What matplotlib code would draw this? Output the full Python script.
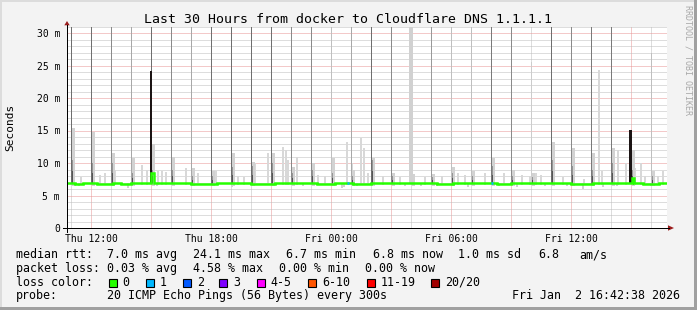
import matplotlib
matplotlib.use("Agg")
import matplotlib.pyplot as plt
from matplotlib.patches import Rectangle, Polygon
from matplotlib.lines import Line2D

W, H = 697, 310

title = "Last 30 Hours from docker to Cloudflare DNS 1.1.1.1"
t_start, t_end = 10.8, 40.8  # hours since Thu 00:00
x_ticks = [12, 18, 24, 30, 36]
x_tick_labels = ["Thu 12:00", "Thu 18:00", "Fri 00:00", "Fri 06:00", "Fri 12:00"]
y_ticks = [0, 5, 10, 15, 20, 25, 30]
y_tick_labels = ["0", "5 m", "10 m", "15 m", "20 m", "25 m", "30 m"]

# hourly bursts: one tall outlier each hour (values in ms)
spike_hour = list(range(11, 41))
spike_top = [40, 40, 40, 40, 40, 40, 40, 40, 40, 40,
             40, 40, 40, 40, 40, 40, 40, 40, 40, 40,
             40, 40, 40, 25.6, 40, 40, 40, 40, 15.1, 27.0]
# share of pings in the outlier (drives the smoke shade)
spike_level = [0.57, 0.56, 0.46, 0.34, 0.57, 0.46, 0.34, 0.56, 0.57, 0.57,
               0.56, 0.46, 0.46, 0.25, 0.34, 0.57, 0.46, 0.18, 0.40, 0.25,
               0.25, 0.52, 0.46, 0.20, 0.57, 0.46, 0.52, 0.52, 0.0, 0.25]
smoke_light = [15.4, 14.8, 11.5, 10.8, 13.0, 11.0, 9.2, 8.7, 11.5, 10.2,
               11.6, 9.4, 10.0, 10.8, 9.0, 10.8, 8.5, 8.3, 8.3, 9.4,
               8.7, 10.8, 8.9, 8.5, 13.3, 12.3, 11.5, 12.3, 12.0, 8.7]
smoke_dark = [10.5, 10.0, 10.0, 8.5, 9.0, 9.0, 8.0, 8.0, 9.4, 9.5,
              10.0, 8.5, 9.0, 8.5, 8.0, 10.5, 8.0, 7.8, 7.8, 8.5,
              8.0, 9.5, 8.0, 7.8, 10.5, 9.5, 9.0, 10.0, 9.0, 8.0]

# steps where most pings were slow
black_hour = [15.0, 38.97]
black_top = [24.1, 15.1]

# scattered smoke between the bursts
clutter_hour = [11.5, 12.45, 12.7, 13.2, 14.55, 14.8, 15.35, 15.55, 15.75, 16.75,
                17.35, 18.25, 19.35, 19.65, 20.2, 20.85, 21.15, 21.6, 21.75, 21.85,
                22.3, 23.35, 23.7, 24.8, 25.05, 25.5, 25.65, 25.85, 26.6, 27.45,
                28.7, 29.55, 30.35, 30.7, 31.1, 31.7, 32.65, 33.55, 33.95, 34.25,
                34.5, 35.6, 36.65, 37.4, 37.55, 38.35, 38.75, 39.2, 39.5, 39.7,
                40.35, 40.6]
clutter_top = [7.9, 8.2, 8.5, 8.9, 9.7, 8.9, 8.8, 8.8, 8.6, 9.2,
               8.5, 8.7, 8.0, 7.9, 10.0, 11.5, 11.3, 12.5, 12.0, 10.5,
               11.0, 8.2, 8.0, 13.3, 10.0, 13.8, 12.3, 8.5, 8.0, 7.8,
               7.8, 8.0, 8.5, 8.2, 8.7, 8.5, 8.5, 8.2, 8.0, 8.5,
               8.2, 7.8, 7.5, 24.3, 8.7, 12.0, 10.0, 9.2, 10.0, 8.0,
               8.0, 8.7]

# smoke below the median
low_hour = [11.2, 11.4, 13.85, 15.3, 19.05, 22.6, 24.55, 24.65, 25.3, 27.7,
            28.5, 29.3, 30.85, 32.4, 33.3, 34.7, 35.8, 36.1, 36.6, 37.6,
            38.3, 40.0]
low_val = [6.4, 6.5, 6.2, 6.4, 6.3, 6.4, 6.2, 6.3, 6.4, 6.4,
           6.4, 6.4, 6.3, 6.4, 6.3, 6.4, 6.5, 6.4, 6.0, 6.3,
           6.4, 6.5]

median_hour = [10.8, 11.2, 11.6, 12.3, 13.1, 13.5, 14.0, 15.0, 15.15, 15.5,
               16.4, 17.0, 18.3, 19.1, 20.0, 21.2, 22.0, 23.3, 24.2, 25.1,
               26.0, 27.2, 28.4, 29.3, 30.1, 31.0, 32.3, 33.0, 34.1, 35.2,
               36.0, 37.1, 38.0, 39.05, 39.15, 39.6, 40.4, 40.8]
median_val = [6.9, 6.8, 6.9, 6.8, 6.9, 6.8, 6.9, 8.5, 6.9, 7.0,
              6.9, 6.8, 6.9, 6.9, 6.8, 6.9, 6.9, 6.8, 6.9, 6.8,
              6.9, 7.0, 6.9, 6.8, 6.9, 6.9, 6.8, 6.9, 7.0, 6.9,
              6.8, 6.9, 6.9, 7.7, 6.9, 6.8, 6.9, 6.9]
loss_hour = [24.78, 32.0]   # one ping lost

loss_labels = ["0", "1", "2", "3", "4-5", "6-10", "11-19", "20/20"]
loss_colors = ["#26ff00", "#00b8ff", "#0059ff", "#7e00ff", "#ff00ff",
               "#ff5500", "#ff0000", "#a10000"]
loss_label_x = [122.7, 160, 197.3, 233.3, 270.7, 322, 380.7, 445]

MONO = "DejaVu Sans Mono"


def fx(x):
    return x / W


def fy(y):
    return 1 - y / H


def gray(level):
    v = 1.0 - level
    return (v, v, v)


fig = plt.figure(figsize=(W / 100, H / 100), dpi=100, facecolor="#f3f3f3")
ax = fig.add_axes([fx(67), fy(228), 600 / W, (228 - 26.5) / H])
ax.set_facecolor("white")
ax.set_xlim(t_start, t_end)
ax.set_ylim(0, 31)
for s in ax.spines.values():
    s.set_visible(False)

# grid
dot = (0, (1, 1))
for h in range(11, 41):
    c = "#e89494" if h % 3 == 0 else "#bcbcbc"
    ax.axvline(h, color=c, lw=0.72, ls=dot, zorder=0.5)
for v in range(1, 32):
    c = "#e89494" if v % 5 == 0 else "#bcbcbc"
    ax.axhline(v, color=c, lw=0.72, ls=dot, zorder=0.5, clip_on=False)

# smoke
ax.bar(clutter_hour, [t - 6.6 for t in clutter_top], width=0.1, bottom=6.6,
       color="#d8d8d8", linewidth=0, antialiased=False, zorder=1)
ax.bar(low_hour, [6.9 - v for v in low_val], width=0.12, bottom=low_val,
       color="#d0d0d0", linewidth=0, antialiased=False, zorder=1)
for h, lt, dt, lv in zip(spike_hour, smoke_light, smoke_dark, spike_level):
    ax.bar(h + 0.12, lt - 6.5, width=0.15, bottom=6.5, color="#d2d2d2",
           linewidth=0, antialiased=False, zorder=1.1)
    ax.bar(h + 0.06, dt - 6.7, width=0.12, bottom=6.7, color="#949494",
           linewidth=0, antialiased=False, zorder=1.2)
    ax.bar(h + 0.05, (dt - 6.9) / 2, width=0.1, bottom=6.9, color="#555555",
           linewidth=0, antialiased=False, zorder=1.3)
    ax.bar(h + 0.02, 0.7, width=0.08, bottom=6.9, color="#202020",
           linewidth=0, antialiased=False, zorder=1.4)

for h, top, lv in zip(spike_hour, spike_top, spike_level):
    if lv <= 0:
        continue
    lw = 1.5 if lv < 0.2 else 0.72
    ax.vlines(h, 7.0, top, colors=[gray(lv)], lw=lw, antialiased=False, zorder=1.5)

ax.bar(black_hour, [t - 6.9 for t in black_top], width=0.12, bottom=6.9,
       color="#1c1414", linewidth=0, antialiased=False, zorder=1.6)

# median rtt
ax.step(median_hour, median_val, where="post", color=loss_colors[0], lw=1.8,
        zorder=3, solid_joinstyle="miter")
for h in loss_hour:
    ax.plot([h, h + 0.1], [6.9, 6.9], color=loss_colors[1], lw=1.8,
            solid_capstyle="butt", zorder=3.1)

# ticks
ax.set_xticks(x_ticks)
ax.set_xticklabels(x_tick_labels, family=MONO, fontsize=7)
ax.set_yticks(y_ticks)
ax.set_yticklabels(y_tick_labels, family=MONO, fontsize=7)
ax.tick_params(axis="x", length=0, pad=4)
ax.tick_params(axis="y", length=0, pad=5)

# axes and arrows
arrow_c = "#9b1c1c"
fig.add_artist(Line2D([fx(62.5), fx(669)], [fy(228), fy(228)], color="black", lw=0.72))
fig.add_artist(Line2D([fx(67), fx(67)], [fy(232), fy(25)], color="black", lw=0.72))
fig.add_artist(Polygon([[fx(668), fy(225.3)], [fx(674), fy(228)], [fx(668), fy(230.7)]],
                       closed=True, color=arrow_c, lw=0))
fig.add_artist(Polygon([[fx(64.3), fy(25.3)], [fx(67), fy(21)], [fx(69.7), fy(25.3)]],
                       closed=True, color=arrow_c, lw=0))

# texts
fig.text(fx(348), fy(23.3), title, family=MONO, fontsize=9.5, ha="center", va="baseline")
fig.text(fx(10), fy(127.5), "Seconds", family=MONO, fontsize=8, rotation=90,
         ha="center", va="center")
fig.text(fx(688), fy(5), "RRDTOOL / TOBI OETIKER", family=MONO, fontsize=6,
         rotation=270, ha="center", va="top", color="#a8a8a8")

fs = 8.4
row1 = [(16, "median rtt:"), (107, "7.0 ms avg"), (193, "24.1 ms max"),
        (286, "6.7 ms min"), (372.7, "6.8 ms now"), (458.3, "1.0 ms sd"),
        (538.3, "6.8"), (579.3, "am/s")]
row2 = [(16, "packet loss:"), (107, "0.03 % avg"), (193, "4.58 % max"),
        (279.3, "0.00 % min"), (365, "0.00 % now")]
for x, s in row1:
    fig.text(fx(x), fy(258.3), s, family=MONO, fontsize=fs, va="baseline")
for x, s in row2:
    fig.text(fx(x), fy(271.7), s, family=MONO, fontsize=fs, va="baseline")
fig.text(fx(16), fy(285.7), "loss color:", family=MONO, fontsize=fs, va="baseline")
for x, lab, c in zip(loss_label_x, loss_labels, loss_colors):
    fig.add_artist(Rectangle((fx(x - 14.2), fy(286.5)), 8 / W, 8 / H, facecolor=c,
                             edgecolor="black", lw=0.8))
    fig.text(fx(x), fy(285.7), lab, family=MONO, fontsize=fs, va="baseline")
fig.text(fx(16), fy(299), "probe:", family=MONO, fontsize=fs, va="baseline")
fig.text(fx(107), fy(299), "20 ICMP Echo Pings (56 Bytes) every 300s", family=MONO,
         fontsize=fs, va="baseline")
fig.text(fx(680), fy(299), "Fri Jan  2 16:42:38 2026", family=MONO, fontsize=fs,
         va="baseline", ha="right")

# frame shading
fig.add_artist(Rectangle((0, fy(310)), 1, 3 / H, facecolor="#a0a0a0", lw=0))
fig.add_artist(Rectangle((fx(694), 0), 3 / W, 1, facecolor="#a0a0a0", lw=0))
fig.add_artist(Rectangle((0, fy(2)), fx(694), 2 / H, facecolor="#dcdcdc", lw=0))
fig.add_artist(Rectangle((0, fy(307)), 2 / W, 305 / H, facecolor="#dcdcdc", lw=0))

fig.savefig("out.png", dpi=100, facecolor=fig.get_facecolor())
